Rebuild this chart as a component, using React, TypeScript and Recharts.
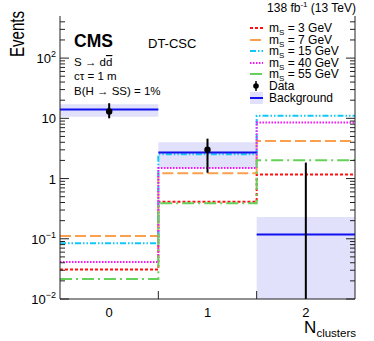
import React from 'react';
import { ComposedChart, Line, Area, XAxis, YAxis } from 'recharts';

// N_clusters bins
const binEdges = [-0.5, 0.5, 1.5, 2.5];
const binLabels = ['0', '1', '2'];
const binCenters = [0, 1, 2];
const binEdgeTicks = [0.5, 1.5];

// background prediction and its uncertainty band
const bkg = [14, 2.7, 0.118];
const bkgLow = [10.6, 1.5, 0.006];
const bkgHigh = [17.2, 4.0, 0.23];

// signal expectations per mass
const ms3 = [0.031, 0.41, 1.17];
const ms7 = [0.111, 1.22, 4.2];
const ms15 = [0.084, 2.54, 11];
const ms40 = [0.041, 1.49, 8.5];
const ms55 = [0.0215, 0.39, 2.02];

// observed data
const dataCounts = [13, 3, 0];
const dataLow = [10, 1.25, 0];
const dataHigh = [17.8, 4.6, 1.84];

const Y_MIN = 0.01;
const Y_MAX = 500;
const yMajor = [0.01, 0.1, 1, 10, 100];
const yMajorBase = ['10', '10', '1', '10', '10'];
const yMajorExp = ['\u22122', '\u22121', '', '', '2'];
const yMinor: number[] = [];
yMajor.forEach(d => [2, 3, 4, 5, 6, 7, 8, 9].forEach(k => { if (d * k < Y_MAX) yMinor.push(d * k); }));
const yTicks = [...yMajor, ...yMinor].sort((a, b) => a - b);

const FONT = '"Liberation Sans", Arial, Helvetica, sans-serif';
const AXIS = '#222';
const BAND = '#e1e1fb';
const BLUE = '#1010f0';

const signals = [
  { key: 's3', label: '3', values: ms3, color: '#ff1010', dash: '3 2' },
  { key: 's7', label: '7', values: ms7, color: '#fca050', dash: '11 4' },
  { key: 's15', label: '15', values: ms15, color: '#10c8f8', dash: '6 2 1.5 2 1.5 2' },
  { key: 's40', label: '40', values: ms40, color: '#ff10ff', dash: '1.5 1.5' },
  { key: 's55', label: '55', values: ms55, color: '#66d15a', dash: '12 4 2 4' },
];

// step table: one row per bin edge, last bin repeated to close the step
const stepRows = binEdges.map((x, i) => {
  const j = Math.min(i, binCenters.length - 1);
  const row: any = { x, band: [bkgLow[j], bkgHigh[j]] };
  signals.forEach(s => { row[s.key] = s.values[j]; });
  return row;
});

// background drawn as separate horizontal segments
const bkgRows = bkg.flatMap((b, i) => [
  { x: binEdges[i], b },
  { x: binEdges[i + 1], b },
  { x: binEdges[i + 1], b: null },
]);

const dataPoints = binCenters
  .map((x, i) => ({ x, y: dataCounts[i] }))
  .filter(p => p.y > 0);

const errorBars = binCenters.map((x, i) => [
  { x, e: Math.max(dataLow[i], Y_MIN) },
  { x, e: dataHigh[i] },
]);

const YTick = (props: any) => {
  const { x, y, payload, side } = props;
  const v = payload.value;
  const idx = yMajor.findIndex(m => Math.abs(m - v) / v < 1e-6);
  const major = idx >= 0;
  const len = major ? 9 : 5;
  const dir = side === 'left' ? 1 : -1;
  return (
    <g>
      <line x1={x} x2={x + dir * len} y1={y} y2={y} stroke={AXIS} strokeWidth={1} />
      {side === 'left' && major && (
        <text x={x - 4} y={y + 5} textAnchor="end" fontSize={13} fill="#000" fontFamily={FONT}>
          {yMajorBase[idx]}
          {yMajorExp[idx] && <tspan dy={-6} fontSize={9}>{yMajorExp[idx]}</tspan>}
        </text>
      )}
    </g>
  );
};

const XTick = (props: any) => {
  const { x, y, payload } = props;
  const v = payload.value;
  const i = binCenters.indexOf(v);
  if (i >= 0) {
    return (
      <text x={x} y={y + 18} textAnchor="middle" fontSize={13} fill="#000" fontFamily={FONT}>
        {binLabels[i]}
      </text>
    );
  }
  return <line x1={x} x2={x} y1={y} y2={y - 8} stroke={AXIS} strokeWidth={1} />;
};

const legendRows = [28, 40, 51, 63, 74, 86, 98];

export default function App() {
  return (
    <div style={{ position: 'absolute', left: 0, top: 0, width: 374, height: 341, background: '#fff' }}>
      <ComposedChart width={374} height={341} margin={{ top: 16, right: 0, bottom: 0, left: 0 }}>
        <XAxis
          dataKey="x"
          type="number"
          domain={[-0.5, 2.5]}
          ticks={[...binCenters, ...binEdgeTicks].sort()}
          interval={0}
          height={42}
          tickSize={0}
          tickMargin={0}
          tickLine={false}
          axisLine={{ stroke: AXIS }}
          tick={(p: any) => <XTick {...p} />}
          allowDataOverflow
        />
        <XAxis xAxisId="top" orientation="top" type="number" domain={[-0.5, 2.5]} height={0} tick={false} tickLine={false} axisLine={{ stroke: AXIS }} />
        <YAxis
          scale="log"
          type="number"
          domain={[Y_MIN, Y_MAX]}
          allowDataOverflow
          ticks={yTicks}
          interval={0}
          width={60}
          tickSize={0}
          tickMargin={0}
          tickLine={false}
          axisLine={{ stroke: AXIS }}
          tick={(p: any) => <YTick {...p} side="left" />}
        />
        <YAxis
          yAxisId="right"
          orientation="right"
          scale="log"
          type="number"
          domain={[Y_MIN, Y_MAX]}
          allowDataOverflow
          ticks={yTicks}
          interval={0}
          width={19}
          tickSize={0}
          tickMargin={0}
          tickLine={false}
          axisLine={{ stroke: AXIS }}
          tick={(p: any) => <YTick {...p} side="right" />}
        />
        <Area data={stepRows} dataKey="band" type="stepAfter" stroke="none" fill={BAND} fillOpacity={1} isAnimationActive={false} />
        {signals.map(s => (
          <Line
            key={s.key}
            data={stepRows}
            dataKey={s.key}
            type="stepAfter"
            stroke={s.color}
            strokeWidth={2}
            strokeDasharray={s.dash}
            dot={false}
            isAnimationActive={false}
          />
        ))}
        <Line data={bkgRows} dataKey="b" type="linear" stroke={BLUE} strokeWidth={2} dot={false} connectNulls={false} isAnimationActive={false} />
        {errorBars.map((eb, i) => (
          <Line key={'eb' + i} data={eb} dataKey="e" type="linear" stroke="#000" strokeWidth={2} dot={false} isAnimationActive={false} />
        ))}
        <Line data={dataPoints} dataKey="y" stroke="none" dot={{ r: 3.2, fill: '#000', stroke: '#000', strokeWidth: 0 }} isAnimationActive={false} />
      </ComposedChart>

      <svg width={374} height={341} style={{ position: 'absolute', left: 0, top: 0, pointerEvents: 'none' }} fontFamily={FONT}>
        <text x={356} y={12} textAnchor="end" fontSize={12} fill="#000">
          138 fb<tspan dy={-5} fontSize={8}>-1</tspan><tspan dy={5}> (13 TeV)</tspan>
        </text>
        <text transform="translate(24,34) rotate(-90) scale(0.72,1)" textAnchor="middle" fontSize={21} fill="#000">Events</text>
        <text x={74} y={47} fontSize={17.5} fontWeight="bold" fill="#000">CMS</text>
        <text x={148} y={48} fontSize={13} fill="#000">DT-CSC</text>
        <text x={74} y={66} fontSize={11.5} fill="#000">S {'\u2192'} d<tspan textDecoration="overline" style={{ textDecoration: 'overline' }}>d</tspan></text>
        <text x={74} y={80} fontSize={11.5} fill="#000">c{'\u03c4'} = 1 m</text>
        <text x={74} y={95} fontSize={11.5} fill="#000">B(H {'\u2192'} SS) = 1%</text>
        <text x={356} y={333} textAnchor="end" fontSize={17} fill="#000">
          N<tspan dy={4} fontSize={11.5}>clusters</tspan>
        </text>

        {signals.map((s, i) => (
          <g key={s.key}>
            <line x1={250} x2={263} y1={legendRows[i]} y2={legendRows[i]} stroke={s.color} strokeWidth={2} strokeDasharray={s.dash} />
            <text x={269} y={legendRows[i] + 4} fontSize={12} fill="#000">
              m<tspan dy={2.5} fontSize={8}>S</tspan><tspan dy={-2.5}> = {s.label} GeV</tspan>
            </text>
          </g>
        ))}
        <line x1={256} x2={256} y1={81} y2={91} stroke="#000" strokeWidth={1.5} />
        <circle cx={256} cy={86} r={2.8} fill="#000" />
        <text x={269} y={legendRows[5] + 4} fontSize={12} fill="#000">Data</text>
        <rect x={250} y={92} width={13} height={12} fill={BAND} />
        <line x1={250} x2={263} y1={98} y2={98} stroke={BLUE} strokeWidth={2} />
        <text x={269} y={legendRows[6] + 4} fontSize={12} fill="#000">Background</text>
      </svg>
    </div>
  );
}
